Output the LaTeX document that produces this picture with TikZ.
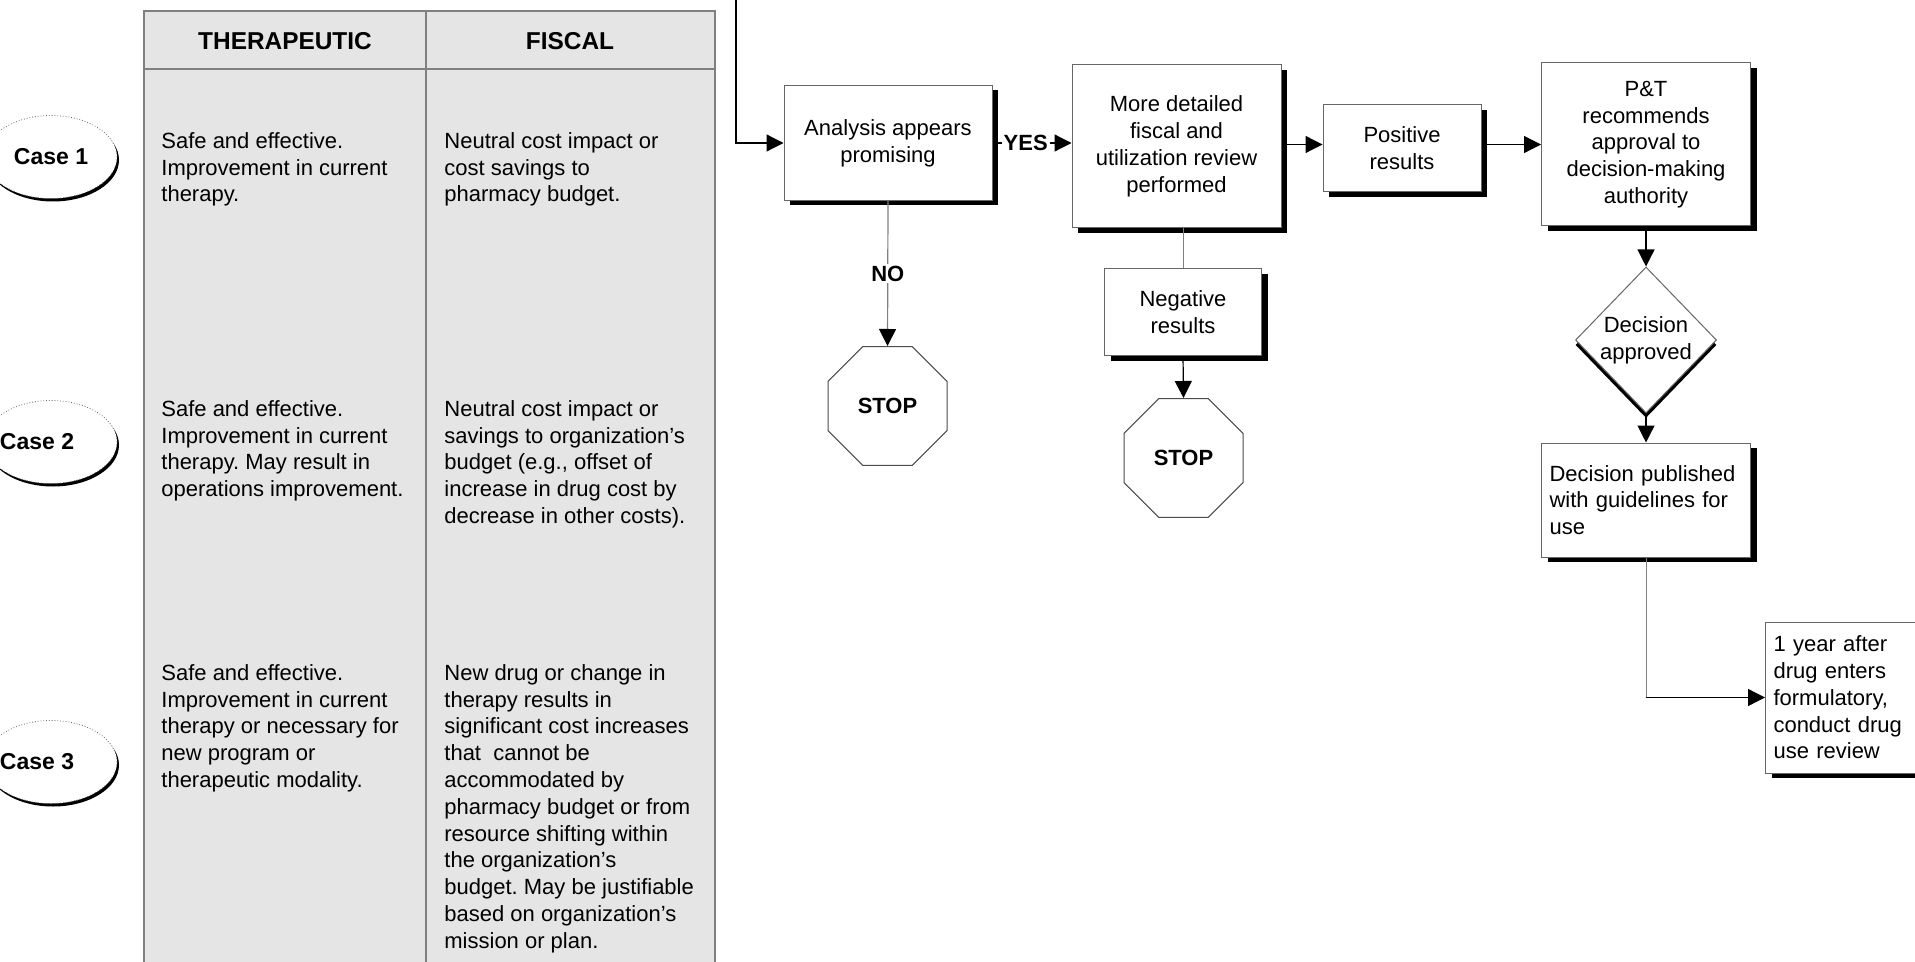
\documentclass[tikz,border=0pt]{standalone}
\usepackage{fontspec}
\setmainfont{Liberation Sans}
\frenchspacing
\usetikzlibrary{arrows.meta,shapes.geometric,shadows}

\tikzset{
    flowbox/.style={draw=black!60, line width=0.5pt, fill=white, align=center, inner sep=0pt,
        drop shadow={shadow xshift=3pt, shadow yshift=-2.5pt, fill=black, opacity=1}},
    stopsign/.style={regular polygon, regular polygon sides=8, minimum size=64.4pt, inner sep=0pt,
        draw=black!70, line width=0.5pt, fill=white, font=\fontsize{11}{13.4}\selectfont\bfseries},
    casetag/.style={ellipse, minimum width=66pt, minimum height=41.5pt, inner sep=0pt,
        draw=black!60, densely dotted, fill=white, font=\fontsize{11.5}{14}\selectfont\bfseries,
        drop shadow={shadow xshift=1pt, shadow yshift=-1.5pt, fill=black, opacity=1}},
    cell/.style={anchor=north west, align=left, inner sep=0pt},
    header/.style={font=\fontsize{12.2}{14}\selectfont\bfseries},
    yesno/.style={fill=white, inner sep=1pt, font=\fontsize{11}{13.4}\selectfont\bfseries},
    link/.style={line width=0.6pt, -{Triangle[length=8.5pt, width=8.5pt, color=black]}},
    plainlink/.style={line width=0.5pt, draw=gray}
}

\begin{document}
\begin{tikzpicture}[x=0.5pt, y=-0.5pt, font=\fontsize{11}{13.4}\selectfont]
    \useasboundingbox (0,0) rectangle (1915,962);

    \draw[gray, line width=0.6pt, fill=gray!20] (144,11) rectangle (715,1000);
    \draw[gray, line width=0.6pt] (144,69) -- (715,69) (426,11) -- (426,1000);
    \node[header] (hther) at (285,41) {THERAPEUTIC};
    \node[header] (hfisc) at (570,41) {FISCAL};

    \node[casetag] (case1) at (51,157) {Case 1};
    \node[casetag] (case2) at (51,442) {\hspace{-14pt}Case 2};
    \node[casetag] (case3) at (51,762) {\hspace{-14pt}Case 3};

    \node[cell] (ther1) at (161,132) {Safe and effective.\\Improvement in current\\therapy.};
    \node[cell] (fisc1) at (444,132) {Neutral cost impact or\\cost savings to\\pharmacy budget.};
    \node[cell] (ther2) at (161,400) {Safe and effective.\\Improvement in current\\therapy. May result in\\operations improvement.};
    \node[cell] (fisc2) at (444,400) {Neutral cost impact or\\savings to organization’s\\budget (e.g., offset of\\increase in drug cost by\\decrease in other costs).};
    \node[cell] (ther3) at (161,664) {Safe and effective.\\Improvement in current\\therapy or necessary for\\new program or\\therapeutic modality.};
    \node[cell] (fisc3) at (444,664) {New drug or change in\\therapy results in\\significant cost increases\\that~ cannot be\\accommodated by\\pharmacy budget or from\\resource shifting within\\the organization’s\\budget. May be justifiable\\based on organization’s\\mission or plan.};

    \node[flowbox, minimum width=104pt, minimum height=57.5pt] (analysis) at (888,143) {Analysis appears\\promising};
    \node[flowbox, minimum width=104.5pt, minimum height=81.5pt] (detailed) at (1176.5,146.5) {More detailed\\fiscal and\\utilization review\\performed};
    \node[flowbox, minimum width=78.5pt, minimum height=43.5pt] (negative) at (1183,312.5) {Negative\\results};
    \node[flowbox, minimum width=79pt, minimum height=43.5pt] (positive) at (1402,148.5) {Positive\\results};
    \node[flowbox, minimum width=104.5pt, minimum height=81.5pt] (approval) at (1646,144.5) {P\&T\\recommends\\approval to\\decision-making\\authority};
    \node[diamond, draw=black!60, line width=0.5pt, fill=white, inner sep=0pt, align=center,
        minimum width=70.5pt, minimum height=73pt,
        drop shadow={shadow xshift=0pt, shadow yshift=-2.5pt, fill=black, opacity=1}] (decision) at (1646,340) {Decision\\approved};
    \node[flowbox, minimum width=104.5pt, minimum height=57pt, text width=96.5pt, align=left, inner xsep=4pt] (published) at (1646,500) {Decision published\\with guidelines for\\use};
    \node[flowbox, anchor=west, minimum height=75.5pt, text width=75pt, align=left, inner xsep=4pt] (review) at (1765,697.5) {1 year after\\drug enters\\formulatory,\\conduct drug\\use review};
    \node[stopsign] (stopa) at (887.5,406) {STOP};
    \node[stopsign] (stopb) at (1183.5,458) {STOP};

    \coordinate (entry) at (736,0);
    \coordinate (turn) at (published.south |- review.west);
    \draw[link] (entry) |- (analysis.west);
    \draw[link] (analysis.east) -- node[yesno, pos=0.42] {YES} (detailed.west |- analysis.east);
    \draw[link, draw=gray] (analysis.south) -- node[yesno] {NO} (stopa.north);
    \draw[plainlink] (negative.north |- detailed.south) -- (negative.north);
    \draw[link] (negative.south) -- (stopb.north);
    \draw[link] (detailed.east |- approval.west) -- (positive.west |- approval.west);
    \draw[link] (positive.east |- approval.west) -- (approval.west);
    \draw[link] (approval.south) -- (decision.north);
    \draw[link] (decision.south) -- (published.north);
    \draw[plainlink] (published.south) -- (turn);
    \draw[link] (turn) -- (review.west);
\end{tikzpicture}
\end{document}
